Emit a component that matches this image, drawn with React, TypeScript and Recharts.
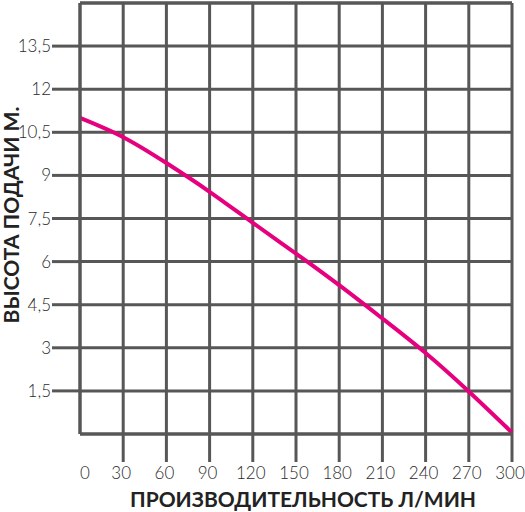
import React from "react";
import { LineChart, Line, XAxis, YAxis, CartesianGrid, ReferenceLine, Label } from "recharts";

const flow = [0, 30, 60, 90, 120, 150, 180, 210, 240, 270, 300];
const head = [11.0, 10.33, 9.43, 8.43, 7.35, 6.28, 5.18, 4.02, 2.82, 1.48, 0.05];
const yTicks = [1.5, 3, 4.5, 6, 7.5, 9, 10.5, 12, 13.5];
const xTitle = "ПРОИЗВОДИТЕЛЬНОСТЬ Л/МИН";
const yTitle = "ВЫСОТА ПОДАЧИ М.";

const data = flow.map((q, i) => ({ q, h: head[i] }));

const GRID = "#575757";
const PINK = "#e6007e";
const FONT = "Lato, 'Open Sans', sans-serif";

const fmt = (v: number) => String(v).replace(".", ",");

function XTick(props: any) {
  const { x, y, payload } = props;
  const v = payload.value;
  return (
    <g>
      {v !== 0 && <line x1={x} y1={y} x2={x} y2={y + 28} stroke={GRID} strokeWidth={3} />}
      <text
        x={v === 0 ? x + 5 : x - 2}
        y={y + 39}
        dy="0.355em"
        textAnchor="middle"
        fontFamily={FONT}
        fontWeight={300}
        fontSize={17}
        fill="#2b2b2b"
      >
        {v}
      </text>
    </g>
  );
}

export default function App() {
  return (
    <div style={{ position: "absolute", left: 0, top: 0, background: "#fff" }}>
      <LineChart width={525} height={512} data={data} margin={{ top: 3, right: 13, left: 0, bottom: 0 }}>
        <CartesianGrid stroke={GRID} strokeWidth={3} />
        <XAxis
          dataKey="q"
          type="number"
          domain={[0, 300]}
          ticks={flow}
          interval={0}
          height={78}
          tickSize={0}
          tickMargin={0}
          tickLine={false}
          axisLine={{ stroke: GRID, strokeWidth: 3 }}
          tick={<XTick />}
        >
          <Label
            content={() => (
              <text x={130} y={500} dy="0.355em" fontFamily={FONT} fontWeight={700} fontSize={21} fill="#222">
                {xTitle}
              </text>
            )}
          />
        </XAxis>
        <YAxis
          type="number"
          domain={[0, 15]}
          ticks={yTicks}
          interval={0}
          width={80}
          tickSize={28}
          tickMargin={1}
          tickFormatter={fmt}
          tickLine={{ stroke: GRID, strokeWidth: 3 }}
          axisLine={{ stroke: GRID, strokeWidth: 3 }}
          tick={{ fontFamily: FONT, fontWeight: 300, fontSize: 17, fill: "#2b2b2b" }}
        >
          <Label
            content={() => (
              <text
                x={12}
                y={215}
                dy="0.355em"
                transform="rotate(-90 12 215)"
                textAnchor="middle"
                fontFamily={FONT}
                fontWeight={700}
                fontSize={21}
                fill="#222"
              >
                {yTitle}
              </text>
            )}
          />
        </YAxis>
        <ReferenceLine y={15} stroke={GRID} strokeWidth={3} />
        <Line
          dataKey="h"
          type="natural"
          stroke={PINK}
          strokeWidth={4}
          dot={false}
          isAnimationActive={false}
        />
      </LineChart>
    </div>
  );
}
